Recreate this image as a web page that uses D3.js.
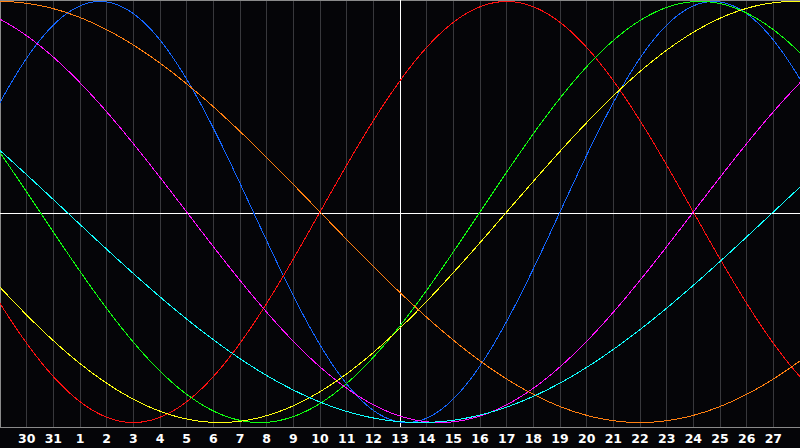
<!DOCTYPE html>
<html>
<head>
<meta charset="utf-8">
<script src="https://cdn.jsdelivr.net/npm/d3@7"></script>
<style>
  html, body { margin: 0; padding: 0; background: #050508; }
  svg { display: block; }
</style>
</head>
<body>
<div id="main"></div>
<script>
// day labels along the bottom, centre day is 13
const dayLabels = [30, 31, 1, 2, 3, 4, 5, 6, 7, 8, 9, 10, 11, 12, 13, 14, 15, 16, 17, 18, 19, 20, 21, 22, 23, 24, 25, 26, 27]
const dayOffsets = d3.range(-14, 15)

// cycles: length in days and how far into the cycle the centre day is
const cycleNames = ['physical', 'emotional', 'intellectual', 'intuitive', 'aesthetic', 'awareness', 'spiritual']
const cyclePeriods = [23, 28, 33, 38, 43, 48, 53]
const cyclePhaseAtCentre = [17, 3, 30, 27, 39, 27, 39]
const cycleColors = ['#1466ff', '#ff1010', '#10ff10', '#ff10ff', '#ffff10', '#ff7f10', '#10ffff']

window.app = (new class {
  constructor() {
    this.width = 800
    this.height = 448
    this.plotBottom = 427
  }

  init() {
    const svg = d3.select('#main').append('svg')
      .attr('width', this.width)
      .attr('height', this.height)

    svg.append('rect')
      .attr('width', this.width)
      .attr('height', this.height)
      .attr('fill', '#050508')

    const x = d3.scaleLinear().domain([-15, 15]).range([0, this.width])
    const y = d3.scaleLinear().domain([-1, 1]).range([422.5, 1.5])

    // vertical day grid
    svg.append('g').selectAll('line')
      .data(dayOffsets.filter(d => d !== 0))
      .enter().append('line')
      .attr('x1', d => Math.floor(x(d)) + 0.5)
      .attr('x2', d => Math.floor(x(d)) + 0.5)
      .attr('y1', 0)
      .attr('y2', this.plotBottom)
      .attr('stroke', '#38383c')
      .attr('shape-rendering', 'crispEdges')

    // frame (left, top, bottom)
    svg.append('path')
      .attr('d', `M0.5,${this.plotBottom + 0.5}V0.5H${this.width}M0,${this.plotBottom + 0.5}H${this.width}`)
      .attr('fill', 'none')
      .attr('stroke', '#8a8a8a')
      .attr('shape-rendering', 'crispEdges')

    // centre cross
    svg.append('line')
      .attr('x1', 0).attr('x2', this.width)
      .attr('y1', 213.5).attr('y2', 213.5)
      .attr('stroke', '#ffffff')
      .attr('shape-rendering', 'crispEdges')
    svg.append('line')
      .attr('x1', x(0) + 0.5).attr('x2', x(0) + 0.5)
      .attr('y1', 0).attr('y2', this.plotBottom)
      .attr('stroke', '#ffffff')
      .attr('shape-rendering', 'crispEdges')

    // curves
    const samples = d3.range(-15, 15.001, 0.1)
    const line = d3.line()
      .x(p => x(p[0]))
      .y(p => y(p[1]))

    svg.append('g').selectAll('path')
      .data(cycleNames.map((name, i) => ({
        name,
        color: cycleColors[i],
        points: samples.map(d => [d, Math.sin(2 * Math.PI * (cyclePhaseAtCentre[i] + d) / cyclePeriods[i])])
      })))
      .enter().append('path')
      .attr('d', c => line(c.points))
      .attr('fill', 'none')
      .attr('stroke', c => c.color)
      .attr('stroke-width', 1)
      .attr('shape-rendering', 'crispEdges')

    // day labels
    svg.append('g').selectAll('text')
      .data(dayOffsets)
      .enter().append('text')
      .attr('x', d => x(d))
      .attr('y', 443)
      .attr('text-anchor', 'middle')
      .attr('fill', '#ffffff')
      .attr('font-family', '"DejaVu Sans", sans-serif')
      .attr('font-weight', 'bold')
      .attr('font-size', 12.5)
      .text((d, i) => dayLabels[i])
  }
}())

window.app.init()
</script>
</body>
</html>
